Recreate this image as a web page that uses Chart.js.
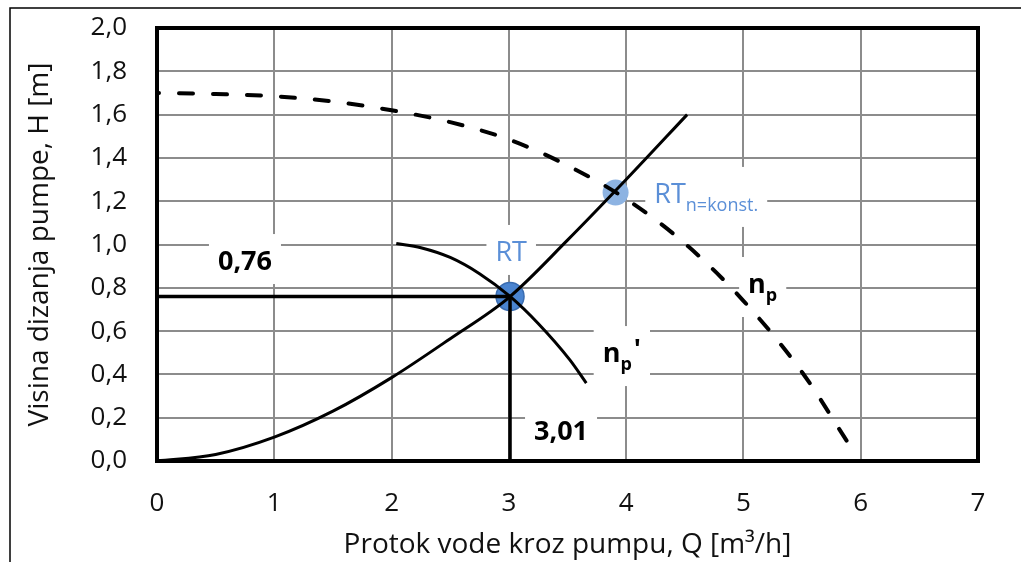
<!DOCTYPE html>
<html>
<head>
<meta charset="utf-8">
<script src="https://cdn.jsdelivr.net/npm/chart.js@4.4.1/dist/chart.umd.min.js"></script>
<style>
  html, body { margin: 0; padding: 0; background: #fff; }
</style>
</head>
<body>
<canvas id="pumpChart" width="1021" height="562"></canvas>
<script>
// Values: Q [m3/h], H [m]

// pipe / system curve
const pipeQ = [0, 0.5, 1, 1.5, 2, 2.5, 3, 3.5, 4, 4.52];
const pipeH = [0, 0.03, 0.11, 0.23, 0.385, 0.565, 0.755, 1.02, 1.30, 1.60];

// pump curve at nominal speed (dashed)
const pumpQ = [0, 0.5, 1, 1.5, 2, 2.5, 3, 3.5, 4, 4.5, 5, 5.5, 5.92];
const pumpH = [1.70, 1.695, 1.685, 1.66, 1.62, 1.565, 1.485, 1.365, 1.21, 1.005, 0.74, 0.41, 0.06];

// pump curve at reduced speed n_p'
const pumpRedQ = [2.04, 2.25, 2.5, 2.75, 3.01, 3.25, 3.52, 3.66];
const pumpRedH = [1.005, 0.985, 0.94, 0.865, 0.76, 0.635, 0.467, 0.36];

// operating points
const rtQ = 3.01, rtH = 0.76;
const rtConstQ = 3.91, rtConstH = 1.24;

// axes
const xMin = 0, xMax = 7, xStep = 1;
const yMin = 0, yMax = 2.0, yStep = 0.2;

const FONT = "'Open Sans', 'Noto Sans', sans-serif";
const BLUE = '#5b8fd7';

function toPoints(qs, hs) {
    return qs.map((q, i) => ({ x: q, y: hs[i] }));
}

// text notes placed in data units (baseline of the main text)
const notes = [
    { text: '0,76', q: 0.75, h: 0.882, bold: true, color: '#000', align: 'center' },
    { text: 'RT', q: 3.02, h: 0.924, color: BLUE, align: 'center' },
    { text: 'RT', sub: 'n=konst.', q: 4.24, h: 1.192, color: BLUE, align: 'left' },
    { text: 'n', sub: 'p', q: 5.04, h: 0.776, bold: true, color: '#000', align: 'left' },
    { text: 'n', sub: 'p', tail: "'", q: 3.80, h: 0.457, bold: true, color: '#000', align: 'left' },
    { text: '3,01', q: 3.445, h: 0.097, bold: true, color: '#000', align: 'center' }
];

// white boxes + texts, under the curves
const notesPlugin = {
    id: 'notes',
    beforeDatasetsDraw(chart) {
        const ctx = chart.ctx;
        const xs = chart.scales.x, ys = chart.scales.y;
        ctx.save();
        notes.forEach(n => {
            const weight = n.bold ? 'bold ' : '';
            const mainFont = weight + '27px ' + FONT;
            const subFont = weight + '18px ' + FONT;
            ctx.font = mainFont;
            const wMain = ctx.measureText(n.text).width;
            ctx.font = subFont;
            const wSub = n.sub ? ctx.measureText(n.sub).width : 0;
            ctx.font = mainFont;
            const wTail = n.tail ? ctx.measureText(n.tail).width + 2 : 0;
            const total = wMain + wSub + wTail;

            const px = xs.getPixelForValue(n.q);
            const py = ys.getPixelForValue(n.h);
            const left = n.align === 'center' ? px - total / 2 : px;

            const pad = 9;
            const top = py - 36;
            const bottom = py + (n.sub ? 24 : 14);
            ctx.fillStyle = '#fff';
            ctx.fillRect(left - pad, top, total + pad * 2, bottom - top);

            ctx.fillStyle = n.color;
            ctx.textBaseline = 'alphabetic';
            ctx.textAlign = 'left';
            ctx.font = mainFont;
            ctx.fillText(n.text, left, py);
            if (n.sub) {
                ctx.font = subFont;
                ctx.fillText(n.sub, left + wMain, py + 8);
            }
            if (n.tail) {
                ctx.font = mainFont;
                ctx.fillText(n.tail, left + wMain + wSub + 2, py - 4);
            }
        });
        ctx.restore();
    }
};

// thick frame round the plot area
const framePlugin = {
    id: 'plotFrame',
    afterDatasetsDraw(chart) {
        const { ctx, chartArea: a } = chart;
        ctx.save();
        ctx.strokeStyle = '#000';
        ctx.lineWidth = 4;
        ctx.strokeRect(a.left, a.top, a.right - a.left, a.bottom - a.top);
        ctx.restore();
    },
    afterDraw(chart) {
        // outer chart border (top and left edges show in the picture)
        const ctx = chart.ctx;
        ctx.save();
        ctx.strokeStyle = '#000';
        ctx.lineWidth = 1.5;
        ctx.beginPath();
        ctx.moveTo(10, chart.height);
        ctx.lineTo(10, 8);
        ctx.lineTo(chart.width, 8);
        ctx.stroke();
        ctx.restore();
    }
};

const ctx = document.getElementById('pumpChart');
new Chart(ctx, {
    type: 'scatter',
    data: {
        datasets: [{
            label: 'n_p',
            data: toPoints(pumpQ, pumpH),
            showLine: true,
            borderColor: '#000',
            borderWidth: 4,
            borderDash: [14, 20],
            borderDashOffset: 12,
            borderCapStyle: 'round',
            cubicInterpolationMode: 'monotone',
            pointRadius: 0,
            order: 1
        }, {
            label: 'cjevovod',
            data: toPoints(pipeQ, pipeH),
            showLine: true,
            borderColor: '#000',
            borderWidth: 3,
            cubicInterpolationMode: 'monotone',
            pointRadius: 0,
            order: 1
        }, {
            label: "n_p'",
            data: toPoints(pumpRedQ, pumpRedH),
            showLine: true,
            borderColor: '#000',
            borderWidth: 3,
            cubicInterpolationMode: 'monotone',
            pointRadius: 0,
            order: 1
        }, {
            label: 'RT lines',
            data: [{ x: xMin, y: rtH }, { x: rtQ, y: rtH }, { x: rtQ, y: yMin }],
            showLine: true,
            borderColor: '#000',
            borderWidth: 3.5,
            pointRadius: 0,
            order: 2
        }, {
            label: 'RT',
            data: [{ x: rtQ, y: rtH }],
            pointRadius: 14,
            backgroundColor: '#4a84d0',
            borderColor: '#3a6cb0',
            borderWidth: 1.5,
            order: 10
        }, {
            label: 'RT n=konst.',
            data: [{ x: rtConstQ, y: rtConstH }],
            pointRadius: 13,
            backgroundColor: '#8db3e2',
            borderWidth: 0,
            order: 10
        }]
    },
    options: {
        responsive: false,
        animation: false,
        devicePixelRatio: 1,
        layout: { padding: { left: 0, right: 43, top: 28, bottom: 0 } },
        plugins: {
            legend: { display: false },
            tooltip: { enabled: false }
        },
        scales: {
            x: {
                type: 'linear',
                min: xMin,
                max: xMax,
                ticks: {
                    stepSize: xStep,
                    padding: 0,
                    color: '#111',
                    font: { family: FONT, size: 26 }
                },
                grid: { color: '#8c8c8c', lineWidth: 2, drawTicks: true, tickLength: 27, tickColor: 'rgba(0,0,0,0)' },
                border: { display: false },
                title: {
                    display: true,
                    text: 'Protok vode kroz pumpu, Q [m³/h]',
                    color: '#111',
                    font: { family: FONT, size: 28 },
                    padding: { top: 0, bottom: 0 }
                },
                afterFit(scale) { scale.height = 101; }
            },
            y: {
                type: 'linear',
                min: yMin,
                max: yMax,
                ticks: {
                    stepSize: yStep,
                    padding: 0,
                    color: '#111',
                    font: { family: FONT, size: 26 },
                    callback: v => v.toFixed(1).replace('.', ',')
                },
                grid: { color: '#8c8c8c', lineWidth: 2, drawTicks: true, tickLength: 30, tickColor: 'rgba(0,0,0,0)' },
                border: { display: false },
                title: {
                    display: true,
                    text: 'Visina dizanja pumpe, H [m]',
                    color: '#111',
                    font: { family: FONT, size: 28 },
                    padding: { top: 23, bottom: 0 }
                },
                afterFit(scale) { scale.width = 157; }
            }
        }
    },
    plugins: [notesPlugin, framePlugin]
});
</script>
</body>
</html>
